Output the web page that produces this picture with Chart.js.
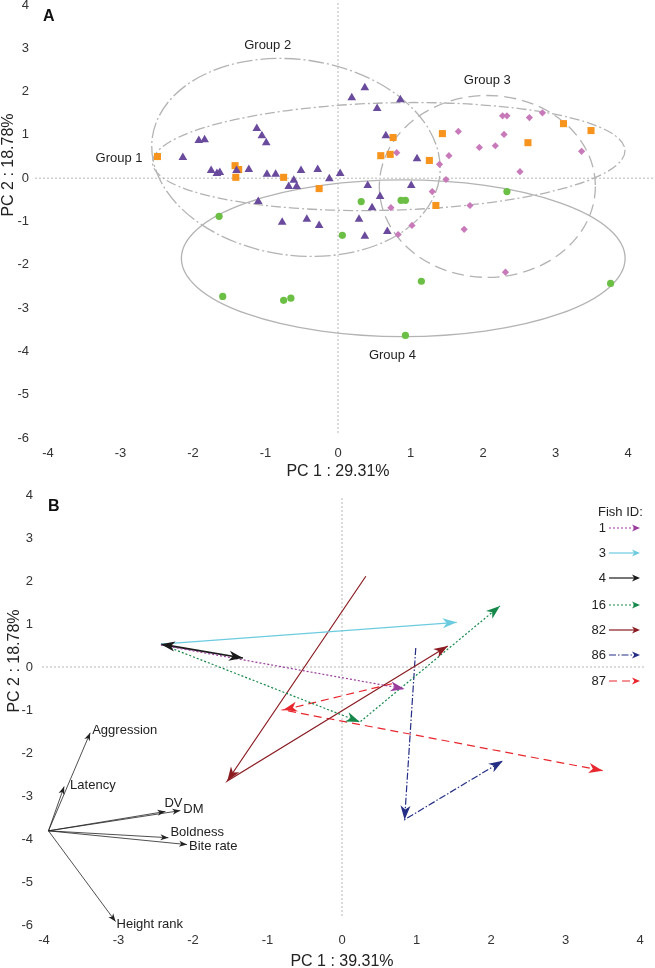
<!DOCTYPE html>
<html>
<head>
<meta charset="utf-8">
<script src="https://cdn.jsdelivr.net/npm/chart.js@4.4.1/dist/chart.umd.min.js"></script>
<style>
  html, body { margin: 0; padding: 0; background: #fff; }
  #wrap { position: relative; width: 655px; height: 968px; }
  #chartA { position: absolute; left: 0; top: 0; }
  #chartB { position: absolute; left: 0; top: 484px; }
</style>
</head>
<body>
<div id="wrap">
  <canvas id="chartA" width="655" height="484"></canvas>
  <canvas id="chartB" width="655" height="484"></canvas>
</div>
<script>
/* =========================
   PANEL A DATA (PC scores)
========================= */
const group1X = [-2.49, -1.42, -1.37, -1.41, -0.75, -0.26, 0.76, 0.59, 0.72, 1.44, 1.26, 1.35, 2.62, 3.11, 3.49];
const group1Y = [0.50, 0.29, 0.20, 0.02, 0.02, -0.24, 0.94, 0.52, 0.55, 1.03, 0.41, -0.63, 0.82, 1.26, 1.10];

const group2X = [-2.14, -1.92, -1.84, -1.12, -1.05, -0.99, -1.75, -1.67, -1.63, -1.40, -1.23, -0.98, -0.86,
  -0.61, -0.68, -0.57, -0.51, -0.28, -0.12, -1.10, -0.77, -0.43, -0.26, 0.37, 0.19, 0.86, 0.54, 0.66,
  1.09, 0.03, 0.41, 1.01, 0.58, 0.47, 0.29, 0.37, 0.68];
const group2Y = [0.48, 0.87, 0.89, 1.15, 0.98, 0.82, 0.18, 0.11, 0.13, 0.18, 0.20, 0.09, 0.09,
  -0.05, -0.19, -0.19, 0.18, 0.20, -0.01, -0.54, -1.02, -0.95, -1.09, 2.09, 1.86, 1.81, 1.61, 0.98,
  0.45, 0.11, -0.17, -0.17, -0.42, -0.68, -0.95, -1.34, -1.23];

const group3X = [0.81, 1.40, 1.53, 1.66, 1.95, 2.17, 2.29, 2.27, 2.33, 2.64, 2.82, 3.36, 2.51, 1.49,
  1.30, 0.73, 1.82, 1.02, 1.74, 0.83, 2.31];
const group3Y = [0.59, 0.32, 0.52, 1.08, 0.71, 0.75, 1.01, 1.44, 1.44, 1.40, 1.51, 0.62, 0.15, -0.03,
  -0.31, -0.68, -0.63, -1.09, -1.18, -1.30, -2.17];

const group4X = [-1.64, -1.59, -0.75, -0.65, 0.32, 0.87, 0.93, 2.33, 0.06, 1.15, 3.76, 0.93];
const group4Y = [-0.88, -2.73, -2.82, -2.77, -0.54, -0.51, -0.51, -0.31, -1.32, -2.38, -2.43, -3.63];

// group ellipses: centre, half-axes, tilt (deg)
const ellipseCX = [0.70, -0.58, 2.06, 0.90];
const ellipseCY = [0.50, 0.48, -0.19, -1.85];
const ellipseRX = [3.26, 2.00, 1.49, 3.06];
const ellipseRY = [1.24, 2.26, 2.10, 1.81];
const ellipseTilt = [-1.5, 8, 0, 0];

const groupNames = ["Group 1", "Group 2", "Group 3", "Group 4"];
const groupLabelX = [-3.02, -0.97, 2.06, 0.75];
const groupLabelY = [0.45, 3.06, 2.25, -4.09];

/* =========================
   PANEL B DATA (fish trajectories + loadings)
========================= */
const fishIds = ["1", "3", "4", "16", "82", "86", "87"];
const fish1X = [-2.43, 0.84];          const fish1Y = [0.51, -0.51];
const fish3X = [-2.43, 1.54];          const fish3Y = [0.53, 1.04];
const fish4X = [-2.31, -1.33, -2.43];  const fish4Y = [0.49, 0.21, 0.53];
const fish16X = [-2.40, 0.24, 2.12];   const fish16Y = [0.51, -1.28, 1.42];
const fish82X = [0.32, -1.54, 1.42];   const fish82Y = [2.11, -2.65, 0.49];
const fish86X = [0.99, 0.84, 2.16];    const fish86Y = [0.44, -3.55, -2.18];
const fish87X = [0.67, -0.79, 3.50];   const fish87Y = [-0.39, -1.00, -2.41];

const loadingNames = ["Aggression", "Latency", "DV", "DM", "Boldness", "Bite rate", "Height rank"];
const loadingX = [-3.38, -3.73, -2.37, -2.17, -2.33, -2.08, -3.04];
const loadingY = [-1.53, -2.78, -3.36, -3.34, -3.97, -4.13, -5.92];
const loadingOriginX = -3.94;
const loadingOriginY = -3.81;

const axisTicks = [-6, -5, -4, -3, -2, -1, 0, 1, 2, 3, 4];

/* =========================
   STYLES
========================= */
const FONT = "'Liberation Sans', Arial, Helvetica, sans-serif";
const TEXT = "#222";
const ELLIPSE_DASH = [[10, 3, 2, 3], [16, 3, 2, 3], [12, 6], []];
const fishColors = ["#9a3c9e", "#6ccbdf", "#1a1a1a", "#15884a", "#8a1c22", "#252e85", "#e8262d"];
const fishDash = [[2, 2], [], [], [2, 2], [], [7, 2, 1.5, 2], [8, 5]];
const fishWidth = [1.2, 1.2, 1.7, 1.2, 1.2, 1.2, 1.2];
const labelOffset = [[2, -2], [6, -1], [-1, -8], [3, -1], [2, -5], [2, 2], [1, 3]];
const legendRowY = [44, 69, 94, 121, 146, 171, 197];

const zip = (xs, ys) => xs.map((x, i) => ({ x, y: ys[i] }));

/* =========================
   HELPERS
========================= */
function drawHead(ctx, x0, y0, x1, y1, len, half, color) {
  const a = Math.atan2(y1 - y0, x1 - x0);
  ctx.save();
  ctx.translate(x1, y1);
  ctx.rotate(a);
  ctx.beginPath();
  ctx.moveTo(0, 0);
  ctx.lineTo(-len, -half);
  ctx.lineTo(-len * 0.72, 0);
  ctx.lineTo(-len, half);
  ctx.closePath();
  ctx.fillStyle = color;
  ctx.fill();
  ctx.restore();
}

function drawZeroLines(chart, ext) {
  const { ctx, chartArea: a, scales: { x, y } } = chart;
  const px = x.getPixelForValue(0);
  const py = y.getPixelForValue(0);
  ctx.save();
  ctx.strokeStyle = "#b8b8b8";
  ctx.lineWidth = 1;
  ctx.setLineDash([2, 2]);
  ctx.beginPath();
  ctx.moveTo(a.left - ext[0], py);
  ctx.lineTo(a.right + ext[1], py);
  ctx.moveTo(px, a.top + ext[2]);
  ctx.lineTo(px, a.bottom - ext[3]);
  ctx.stroke();
  ctx.restore();
}

function drawText(ctx, text, x, y, opts) {
  ctx.save();
  ctx.font = opts.font;
  ctx.fillStyle = opts.color || TEXT;
  ctx.textAlign = opts.align || "left";
  ctx.textBaseline = "middle";
  if (opts.rotate) {
    ctx.translate(x, y);
    ctx.rotate(opts.rotate);
    ctx.fillText(text, 0, 0);
  } else {
    ctx.fillText(text, x, y);
  }
  ctx.restore();
}

function baseScales(xTitle, cfg) {
  return {
    x: {
      type: "linear", min: -4, max: 4,
      afterBuildTicks: (s) => { s.ticks = axisTicks.filter(v => v >= -4).map(v => ({ value: v })); },
      afterFit: (s) => { s.height = cfg.xHeight; s.paddingLeft = 0; s.paddingRight = 0; },
      ticks: { color: "#333", font: { family: FONT, size: 13 }, padding: 8 },
      grid: { display: false, drawTicks: false },
      border: { display: false },
      title: {
        display: true, text: xTitle, color: TEXT,
        font: { family: FONT, size: 16, lineHeight: 1 },
        padding: { top: 0, bottom: cfg.titlePad },
      },
    },
    y: {
      type: "linear", min: -6, max: 4,
      afterBuildTicks: (s) => { s.ticks = axisTicks.map(v => ({ value: v })); },
      afterFit: (s) => { s.width = cfg.yWidth; s.paddingTop = 0; s.paddingBottom = 0; },
      ticks: { color: "#333", font: { family: FONT, size: 13 }, padding: cfg.yPad },
      grid: { display: false, drawTicks: false },
      border: { display: false },
    },
  };
}

/* =========================
   PANEL A
========================= */
const panelAPlugin = {
  id: "panelA",
  beforeDatasetsDraw(chart) {
    const { ctx, scales: { x, y } } = chart;
    drawZeroLines(chart, [13, 25, -2, 5]);
    ellipseCX.forEach((cx, i) => {
      const px = x.getPixelForValue(cx);
      const py = y.getPixelForValue(ellipseCY[i]);
      const rx = Math.abs(x.getPixelForValue(cx + ellipseRX[i]) - px);
      const ry = Math.abs(y.getPixelForValue(ellipseCY[i] + ellipseRY[i]) - py);
      ctx.save();
      ctx.strokeStyle = "#b3b3b3";
      ctx.lineWidth = 1.3;
      ctx.setLineDash(ELLIPSE_DASH[i]);
      ctx.beginPath();
      ctx.ellipse(px, py, rx, ry, ellipseTilt[i] * Math.PI / 180, 0, Math.PI * 2);
      ctx.stroke();
      ctx.restore();
    });
  },
  afterDraw(chart) {
    const { ctx, scales: { x, y } } = chart;
    groupNames.forEach((name, i) => {
      drawText(ctx, name, x.getPixelForValue(groupLabelX[i]), y.getPixelForValue(groupLabelY[i]),
        { font: `13px ${FONT}`, align: "center" });
    });
    drawText(ctx, "A", 43, 17, { font: `bold 16px ${FONT}`, color: "#111" });
    drawText(ctx, "PC 2 : 18.78%", 9, 165, { font: `16px ${FONT}`, align: "center", rotate: -Math.PI / 2 });
  },
};

new Chart(document.getElementById("chartA"), {
  type: "scatter",
  data: {
    datasets: [
      { label: "Group 2", data: zip(group2X, group2Y), pointStyle: "triangle", pointRadius: 5,
        backgroundColor: "#6a4a9c", borderColor: "#6a4a9c", borderWidth: 0 },
      { label: "Group 3", data: zip(group3X, group3Y), pointStyle: "rectRot", pointRadius: 3.6,
        backgroundColor: "#c879b9", borderColor: "#c879b9", borderWidth: 0 },
      { label: "Group 4", data: zip(group4X, group4Y), pointStyle: "circle", pointRadius: 3.6,
        backgroundColor: "#6cbf45", borderColor: "#6cbf45", borderWidth: 0 },
      { label: "Group 1", data: zip(group1X, group1Y), pointStyle: "rect", pointRadius: 5,
        backgroundColor: "#f7941d", borderColor: "#f7941d", borderWidth: 0 },
    ],
  },
  options: {
    responsive: false, animation: false, devicePixelRatio: 1,
    layout: { padding: { left: 0, right: 27, top: 4, bottom: 0 } },
    plugins: { legend: { display: false }, tooltip: { enabled: false } },
    scales: baseScales("PC 1 : 29.31%", { xHeight: 46, titlePad: 4, yWidth: 48, yPad: 19 }),
  },
  plugins: [panelAPlugin],
});

/* =========================
   PANEL B
========================= */
const fishX = [fish1X, fish3X, fish4X, fish16X, fish82X, fish86X, fish87X];
const fishY = [fish1Y, fish3Y, fish4Y, fish16Y, fish82Y, fish86Y, fish87Y];

const fishSets = fishIds.map((id, i) => ({
  label: id,
  data: zip(fishX[i], fishY[i]),
  showLine: true,
  borderColor: fishColors[i],
  borderWidth: fishWidth[i],
  borderDash: fishDash[i],
  pointRadius: 0,
  arrow: { len: 14, half: 5 },
}));

const loadingSets = loadingNames.map((name, i) => ({
  label: name,
  data: [{ x: loadingOriginX, y: loadingOriginY }, { x: loadingX[i], y: loadingY[i] }],
  showLine: true,
  borderColor: "#222",
  borderWidth: 0.8,
  pointRadius: 0,
  arrow: { len: 8, half: 3 },
  tag: i,
}));

const panelBPlugin = {
  id: "panelB",
  beforeDatasetsDraw(chart) {
    drawZeroLines(chart, [2, 5, 3, 7]);
  },
  afterDatasetsDraw(chart) {
    const { ctx } = chart;
    chart.data.datasets.forEach((ds, di) => {
      const pts = chart.getDatasetMeta(di).data;
      for (let k = 1; k < pts.length; k++) {
        drawHead(ctx, pts[k - 1].x, pts[k - 1].y, pts[k].x, pts[k].y, ds.arrow.len, ds.arrow.half, ds.borderColor);
      }
      if (ds.tag !== undefined) {
        const off = labelOffset[ds.tag];
        drawText(ctx, ds.label, pts[1].x + off[0], pts[1].y + off[1], { font: `13px ${FONT}` });
      }
    });
  },
  afterDraw(chart) {
    const { ctx } = chart;
    drawText(ctx, "Fish ID:", 598, 28, { font: `13px ${FONT}` });
    fishIds.forEach((id, i) => {
      const yy = legendRowY[i];
      drawText(ctx, id, 606, yy, { font: `13px ${FONT}`, align: "right" });
      ctx.save();
      ctx.strokeStyle = fishColors[i];
      ctx.lineWidth = 1.2;
      ctx.setLineDash(fishDash[i]);
      ctx.beginPath();
      ctx.moveTo(609, yy);
      ctx.lineTo(636, yy);
      ctx.stroke();
      ctx.restore();
      drawHead(ctx, 609, yy, 640, yy, 8, 3.5, fishColors[i]);
    });
    drawText(ctx, "B", 48, 23, { font: `bold 16px ${FONT}`, color: "#111" });
    drawText(ctx, "PC 2 : 18.78%", 15, 177, { font: `16px ${FONT}`, align: "center", rotate: -Math.PI / 2 });
  },
};

new Chart(document.getElementById("chartB"), {
  type: "scatter",
  data: { datasets: [...loadingSets, ...fishSets] },
  options: {
    responsive: false, animation: false, devicePixelRatio: 1,
    layout: { padding: { left: 0, right: 15, top: 11, bottom: 0 } },
    plugins: { legend: { display: false }, tooltip: { enabled: false } },
    scales: baseScales("PC 1 : 39.31%", { xHeight: 43, titlePad: -2, yWidth: 44, yPad: 11 }),
  },
  plugins: [panelBPlugin],
});
</script>
</body>
</html>
